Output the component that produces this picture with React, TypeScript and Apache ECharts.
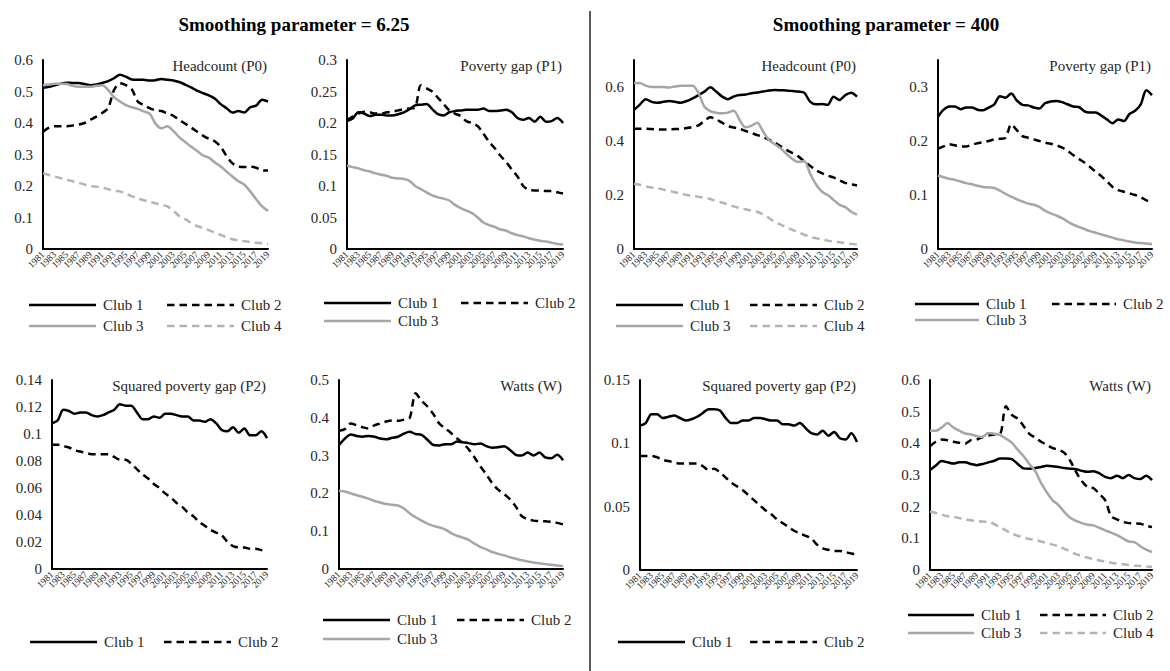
import React, { useEffect, useRef } from 'react';
import * as echarts from 'echarts';

const years = ['1981','1982','1983','1984','1985','1986','1987','1988','1989','1990','1991','1992','1993','1994','1995','1996','1997','1998','1999','2000','2001','2002','2003','2004','2005','2006','2007','2008','2009','2010','2011','2012','2013','2014','2015','2016','2017','2018','2019'];

const headers = ['Smoothing parameter = 6.25', 'Smoothing parameter = 400'];
const panelTitles = ['Headcount (P0)', 'Poverty gap (P1)', 'Squared poverty gap (P2)', 'Watts (W)'];
const clubNames = ['Club 1', 'Club 2', 'Club 3', 'Club 4'];

// Smoothing parameter = 6.25
const s625_P0_c1 = [0.512,0.515,0.52,0.525,0.528,0.527,0.527,0.524,0.52,0.522, 0.527,0.533,0.542,0.553,0.547,0.538,0.537,0.537,0.535,0.536, 0.54,0.537,0.535,0.53,0.522,0.513,0.503,0.495,0.488,0.478, 0.46,0.447,0.433,0.438,0.433,0.45,0.455,0.474,0.468];
const s625_P0_c2 = [0.372,0.385,0.39,0.39,0.39,0.392,0.395,0.4,0.41,0.42, 0.432,0.447,0.505,0.526,0.52,0.507,0.468,0.457,0.447,0.44, 0.438,0.43,0.423,0.41,0.398,0.386,0.373,0.36,0.35,0.342, 0.325,0.295,0.272,0.262,0.26,0.261,0.258,0.25,0.249];
const s625_P0_c3 = [0.52,0.522,0.525,0.525,0.524,0.518,0.515,0.515,0.515,0.518, 0.52,0.505,0.482,0.468,0.457,0.45,0.445,0.437,0.43,0.398, 0.383,0.39,0.375,0.355,0.34,0.325,0.312,0.297,0.29,0.275, 0.262,0.246,0.23,0.215,0.204,0.183,0.158,0.135,0.121];
const s625_P0_c4 = [0.24,0.235,0.23,0.225,0.22,0.215,0.21,0.205,0.2,0.198, 0.195,0.19,0.185,0.183,0.175,0.168,0.16,0.155,0.15,0.145, 0.14,0.135,0.122,0.105,0.095,0.083,0.073,0.067,0.06,0.052, 0.045,0.037,0.031,0.027,0.025,0.022,0.02,0.018,0.016];

const s625_P1_c1 = [0.203,0.207,0.217,0.215,0.211,0.213,0.213,0.212,0.212,0.214, 0.217,0.222,0.228,0.229,0.23,0.222,0.214,0.212,0.217,0.219, 0.22,0.221,0.221,0.221,0.223,0.219,0.219,0.22,0.221,0.217, 0.208,0.205,0.208,0.202,0.21,0.202,0.203,0.208,0.2];
const s625_P1_c2 = [0.205,0.21,0.215,0.218,0.217,0.215,0.215,0.217,0.218,0.22, 0.222,0.223,0.225,0.26,0.255,0.25,0.24,0.23,0.22,0.215, 0.211,0.203,0.2,0.195,0.183,0.17,0.16,0.148,0.138,0.126, 0.115,0.1,0.094,0.093,0.093,0.092,0.092,0.09,0.088];
const s625_P1_c3 = [0.132,0.13,0.128,0.125,0.123,0.12,0.118,0.116,0.113,0.112, 0.111,0.108,0.1,0.095,0.09,0.085,0.082,0.08,0.077,0.07, 0.065,0.061,0.057,0.05,0.042,0.038,0.035,0.031,0.029,0.025, 0.022,0.02,0.017,0.015,0.013,0.012,0.01,0.008,0.007];

const s625_P2_c1 = [0.108,0.11,0.118,0.117,0.115,0.116,0.116,0.114,0.113,0.114, 0.116,0.118,0.122,0.121,0.121,0.116,0.111,0.111,0.113,0.112, 0.115,0.115,0.114,0.113,0.113,0.11,0.11,0.109,0.111,0.108, 0.103,0.102,0.105,0.101,0.104,0.099,0.099,0.102,0.097];
const s625_P2_c2 = [0.092,0.092,0.091,0.09,0.088,0.087,0.086,0.085,0.085,0.085, 0.085,0.083,0.081,0.081,0.078,0.074,0.07,0.067,0.063,0.06, 0.056,0.053,0.049,0.046,0.042,0.039,0.035,0.032,0.029,0.027, 0.025,0.02,0.017,0.016,0.016,0.015,0.015,0.014,0.013];

const s625_W_c1 = [0.328,0.345,0.356,0.352,0.35,0.352,0.35,0.345,0.343,0.347, 0.35,0.358,0.363,0.357,0.355,0.342,0.328,0.327,0.33,0.33, 0.337,0.335,0.333,0.33,0.332,0.325,0.321,0.322,0.325,0.315, 0.302,0.3,0.308,0.3,0.308,0.295,0.293,0.302,0.288];
const s625_W_c2 = [0.366,0.37,0.385,0.38,0.375,0.372,0.38,0.385,0.39,0.393, 0.392,0.395,0.4,0.465,0.445,0.43,0.41,0.385,0.372,0.36, 0.346,0.333,0.317,0.295,0.271,0.25,0.227,0.21,0.198,0.185, 0.165,0.14,0.132,0.128,0.127,0.126,0.125,0.122,0.118];
const s625_W_c3 = [0.207,0.205,0.2,0.195,0.191,0.186,0.18,0.176,0.172,0.17, 0.168,0.16,0.147,0.137,0.128,0.12,0.114,0.11,0.105,0.095, 0.088,0.083,0.077,0.067,0.058,0.052,0.045,0.04,0.036,0.031, 0.027,0.023,0.02,0.017,0.015,0.013,0.011,0.009,0.008];

// Smoothing parameter = 400
const s400_P0_c1 = [0.515,0.535,0.555,0.545,0.542,0.545,0.548,0.545,0.542,0.548, 0.558,0.57,0.583,0.599,0.583,0.565,0.555,0.565,0.57,0.572, 0.577,0.58,0.583,0.587,0.589,0.588,0.587,0.585,0.583,0.579, 0.546,0.536,0.537,0.534,0.564,0.552,0.57,0.579,0.564];
const s400_P0_c2 = [0.445,0.445,0.445,0.444,0.443,0.443,0.443,0.444,0.445,0.448, 0.452,0.458,0.475,0.488,0.48,0.468,0.456,0.45,0.445,0.437, 0.43,0.422,0.415,0.405,0.394,0.38,0.367,0.355,0.343,0.325, 0.308,0.292,0.281,0.272,0.265,0.255,0.245,0.24,0.235];
const s400_P0_c3 = [0.614,0.615,0.605,0.6,0.6,0.6,0.598,0.602,0.605,0.605, 0.605,0.577,0.527,0.511,0.505,0.503,0.505,0.512,0.478,0.451, 0.456,0.468,0.435,0.404,0.388,0.372,0.352,0.333,0.322,0.325, 0.28,0.24,0.213,0.2,0.182,0.164,0.155,0.138,0.127];
const s400_P0_c4 = [0.242,0.238,0.232,0.228,0.225,0.22,0.215,0.21,0.205,0.2, 0.197,0.193,0.19,0.185,0.178,0.172,0.165,0.158,0.152,0.147, 0.142,0.138,0.128,0.115,0.1,0.09,0.08,0.071,0.062,0.053, 0.045,0.04,0.035,0.031,0.028,0.025,0.022,0.019,0.017];

const s400_P1_c1 = [0.245,0.258,0.264,0.264,0.259,0.262,0.262,0.258,0.257,0.262, 0.268,0.283,0.28,0.288,0.275,0.267,0.266,0.262,0.26,0.27, 0.273,0.274,0.272,0.268,0.264,0.263,0.255,0.253,0.253,0.247, 0.24,0.233,0.24,0.237,0.25,0.256,0.268,0.294,0.285];
const s400_P1_c2 = [0.186,0.19,0.194,0.192,0.19,0.19,0.193,0.196,0.198,0.2, 0.203,0.204,0.206,0.231,0.22,0.209,0.206,0.203,0.2,0.197, 0.195,0.192,0.188,0.182,0.174,0.167,0.16,0.152,0.143,0.135, 0.125,0.115,0.109,0.106,0.103,0.1,0.096,0.09,0.086];
const s400_P1_c3 = [0.136,0.133,0.13,0.128,0.125,0.122,0.12,0.117,0.115,0.114, 0.113,0.108,0.102,0.097,0.092,0.088,0.084,0.082,0.078,0.071, 0.066,0.062,0.057,0.051,0.045,0.041,0.037,0.033,0.03,0.027, 0.024,0.021,0.018,0.016,0.014,0.012,0.011,0.01,0.009];

const s400_P2_c1 = [0.114,0.116,0.123,0.123,0.12,0.121,0.122,0.12,0.118,0.119, 0.121,0.124,0.127,0.127,0.126,0.12,0.116,0.116,0.118,0.118, 0.12,0.12,0.119,0.118,0.118,0.115,0.115,0.114,0.116,0.112, 0.108,0.107,0.11,0.106,0.109,0.104,0.103,0.108,0.101];
const s400_P2_c2 = [0.09,0.09,0.09,0.089,0.087,0.086,0.085,0.084,0.084,0.084, 0.084,0.082,0.079,0.08,0.077,0.073,0.069,0.066,0.063,0.059, 0.055,0.051,0.047,0.044,0.04,0.037,0.034,0.031,0.029,0.027, 0.025,0.02,0.017,0.016,0.015,0.015,0.014,0.013,0.012];

const s400_W_c1 = [0.316,0.33,0.344,0.34,0.336,0.34,0.34,0.335,0.331,0.335, 0.34,0.345,0.352,0.352,0.35,0.335,0.321,0.32,0.322,0.325, 0.329,0.328,0.325,0.322,0.32,0.318,0.313,0.31,0.312,0.305, 0.294,0.29,0.298,0.29,0.3,0.29,0.287,0.298,0.284];
const s400_W_c2 = [0.391,0.405,0.412,0.41,0.405,0.402,0.399,0.41,0.412,0.42, 0.425,0.428,0.43,0.517,0.49,0.478,0.455,0.43,0.418,0.405, 0.395,0.385,0.38,0.37,0.345,0.31,0.28,0.262,0.258,0.24, 0.22,0.17,0.16,0.152,0.148,0.147,0.146,0.14,0.136];
const s400_W_c3 = [0.44,0.44,0.45,0.464,0.45,0.44,0.431,0.428,0.423,0.42, 0.433,0.43,0.426,0.415,0.402,0.38,0.36,0.335,0.313,0.275, 0.245,0.22,0.205,0.183,0.165,0.155,0.148,0.143,0.141,0.133, 0.125,0.118,0.11,0.1,0.09,0.088,0.075,0.064,0.057];
const s400_W_c4 = [0.185,0.18,0.175,0.17,0.168,0.164,0.16,0.157,0.155,0.153, 0.152,0.145,0.135,0.125,0.115,0.108,0.102,0.098,0.095,0.09, 0.085,0.08,0.075,0.067,0.058,0.05,0.044,0.039,0.034,0.03, 0.027,0.023,0.02,0.018,0.016,0.014,0.013,0.011,0.01];

const FONT = 'Liberation Serif';
const TEXT = '#262626';

const clubStyles: Record<string, any> = {
  'Club 1': { color: '#000000', width: 2.5, type: 'solid' },
  'Club 2': { color: '#000000', width: 2.5, type: [7.5, 5] },
  'Club 3': { color: '#a6a6a6', width: 2.5, type: 'solid' },
  'Club 4': { color: '#b4b4b4', width: 2.5, type: [7.5, 5] },
};

type Panel = {
  title: string;
  grid: { left: number; top: number; width: number; height: number };
  max: number; interval: number; hideMax?: boolean;
  data: number[][];
  legendX: number[]; legendRows: number[]; iconW: number;
};

const panels: Panel[] = [
  { title: panelTitles[0], grid: { left: 43, top: 60, width: 225, height: 189 }, max: 0.6, interval: 0.1,
    data: [s625_P0_c1, s625_P0_c2, s625_P0_c3, s625_P0_c4], legendX: [29, 167], legendRows: [305, 326], iconW: 67 },
  { title: panelTitles[1], grid: { left: 347, top: 60, width: 216, height: 189 }, max: 0.3, interval: 0.05,
    data: [s625_P1_c1, s625_P1_c2, s625_P1_c3], legendX: [324, 461], legendRows: [303, 321], iconW: 67 },
  { title: panelTitles[2], grid: { left: 52, top: 380, width: 215, height: 189 }, max: 0.14, interval: 0.02,
    data: [s625_P2_c1, s625_P2_c2], legendX: [30, 164], legendRows: [642], iconW: 67 },
  { title: panelTitles[3], grid: { left: 339, top: 380, width: 224, height: 189 }, max: 0.5, interval: 0.1,
    data: [s625_W_c1, s625_W_c2, s625_W_c3], legendX: [323, 457], legendRows: [620, 639], iconW: 67 },
  { title: panelTitles[0], grid: { left: 634, top: 60, width: 223, height: 189 }, max: 0.7, interval: 0.2, hideMax: true,
    data: [s400_P0_c1, s400_P0_c2, s400_P0_c3, s400_P0_c4], legendX: [616, 750], legendRows: [305, 326], iconW: 67 },
  { title: panelTitles[1], grid: { left: 938, top: 60, width: 214, height: 189 }, max: 0.35, interval: 0.1, hideMax: true,
    data: [s400_P1_c1, s400_P1_c2, s400_P1_c3], legendX: [915, 1052], legendRows: [304, 320], iconW: 64 },
  { title: panelTitles[2], grid: { left: 640, top: 380, width: 217, height: 190 }, max: 0.15, interval: 0.05,
    data: [s400_P2_c1, s400_P2_c2], legendX: [618, 750], legendRows: [642], iconW: 67 },
  { title: panelTitles[3], grid: { left: 930, top: 380, width: 222, height: 190 }, max: 0.6, interval: 0.1,
    data: [s400_W_c1, s400_W_c2, s400_W_c3, s400_W_c4], legendX: [908, 1040], legendRows: [615, 633], iconW: 66 },
];

function legendItem(name: string, x: number, y: number, iconW: number) {
  const st = clubStyles[name];
  return [
    {
      type: 'line', shape: { x1: x, y1: y, x2: x + iconW, y2: y },
      style: { stroke: st.color, lineWidth: 2.6, lineDash: Array.isArray(st.type) ? st.type : null },
      silent: true,
    },
    {
      type: 'text', x: x + iconW + 7, y,
      style: { text: name, font: `15px "Liberation Serif"`, fill: TEXT, textAlign: 'left', textVerticalAlign: 'middle' },
      silent: true,
    },
  ];
}

function buildOption() {
  const grid: any[] = [];
  const xAxis: any[] = [];
  const yAxis: any[] = [];
  const series: any[] = [];
  const graphic: any[] = [];

  panels.forEach((p, i) => {
    grid.push({ ...p.grid, containLabel: false });
    xAxis.push({
      type: 'category', gridIndex: i, data: years, boundaryGap: false,
      axisLine: { show: true, lineStyle: { color: '#000', width: 2 } },
      axisTick: { show: false },
      axisLabel: {
        interval: 0, rotate: 45, fontSize: 9.5, margin: 4, color: TEXT, fontFamily: FONT,
        formatter: (v: string, idx: number) => (idx % 2 === 0 ? v : ''),
      },
      splitLine: { show: false },
    });
    yAxis.push({
      type: 'value', gridIndex: i, min: 0, max: p.max, interval: p.interval,
      axisLine: { show: true, lineStyle: { color: '#000', width: 2 } },
      axisTick: { show: false },
      splitLine: { show: false },
      axisLabel: { fontSize: 15, margin: 10, color: TEXT, fontFamily: FONT, showMinLabel: true, showMaxLabel: p.hideMax ? false : true },
    });
    p.data.forEach((d, k) => {
      const name = clubNames[k];
      const st = clubStyles[name];
      series.push({
        type: 'line', name, xAxisIndex: i, yAxisIndex: i, data: d,
        smooth: 0.3, symbol: 'none', showSymbol: false,
        itemStyle: { color: st.color },
        lineStyle: { ...st },
        emphasis: { disabled: true },
      });
    });
    p.data.forEach((_, k) => {
      const row = Math.floor(k / 2);
      const col = k % 2;
      graphic.push(...legendItem(clubNames[k], p.legendX[col], p.legendRows[row], p.iconW));
    });
    graphic.push({
      type: 'text', x: p.grid.left + p.grid.width - 1, y: p.grid.top + 6,
      style: { text: p.title, font: `15px "Liberation Serif"`, fill: TEXT, textAlign: 'right', textVerticalAlign: 'middle' },
    });
  });

  graphic.push({
    type: 'line', shape: { x1: 590, y1: 11, x2: 590, y2: 671 },
    style: { stroke: '#000', lineWidth: 1.3 },
  });
  graphic.push({
    type: 'text', x: 294, y: 24,
    style: { text: headers[0], font: `bold 19px "Liberation Serif"`, fill: '#000', textAlign: 'center', textVerticalAlign: 'middle' },
  });
  graphic.push({
    type: 'text', x: 886, y: 24,
    style: { text: headers[1], font: `bold 19px "Liberation Serif"`, fill: '#000', textAlign: 'center', textVerticalAlign: 'middle' },
  });

  return { animation: false, backgroundColor: '#ffffff', grid, xAxis, yAxis, series, graphic };
}

export default function App() {
  const ref = useRef<HTMLDivElement>(null);
  useEffect(() => {
    document.body.style.margin = '0';
    const chart = echarts.init(ref.current as HTMLDivElement, null, { renderer: 'svg' });
    chart.setOption(buildOption() as any);
    return () => chart.dispose();
  }, []);
  return <div ref={ref} style={{ width: 1170, height: 671, background: '#fff' }} />;
}
